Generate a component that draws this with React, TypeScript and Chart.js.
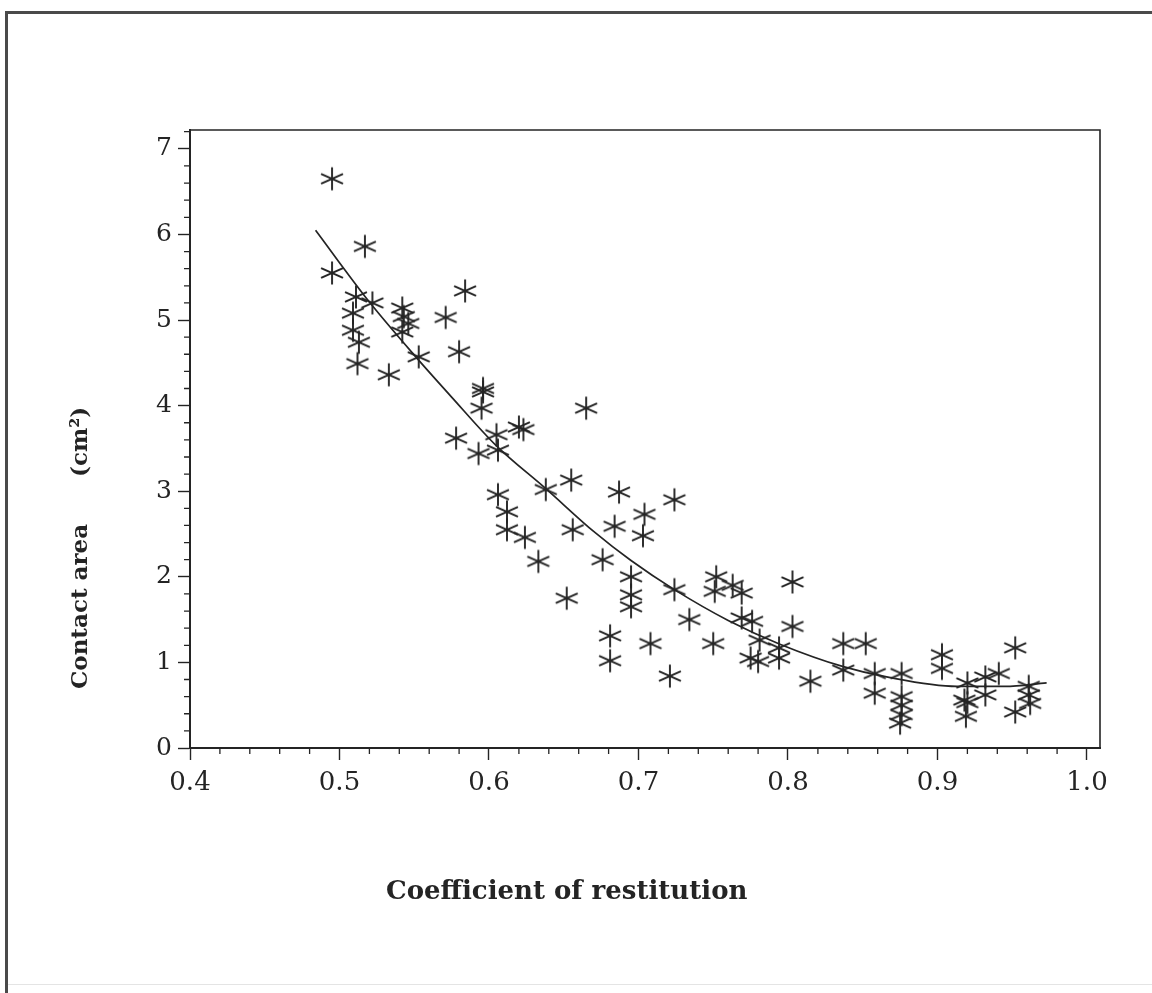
import React, { useEffect, useRef } from "react";
import { Chart, registerables } from "chart.js";

Chart.register(...registerables);

// Observed points: coefficient of restitution vs contact area (cm²)
const restitution = [
  0.495, 0.517, 0.495, 0.511, 0.522, 0.509, 0.542, 0.543, 0.546, 0.509,
  0.513, 0.542, 0.553, 0.512, 0.533, 0.584, 0.571, 0.580, 0.665, 0.596,
  0.596, 0.595, 0.620, 0.623, 0.605, 0.578, 0.593, 0.606, 0.638, 0.655,
  0.687, 0.724, 0.606, 0.612, 0.612, 0.624, 0.633, 0.656, 0.684, 0.704,
  0.703, 0.676, 0.652, 0.695, 0.695, 0.695, 0.724, 0.734, 0.752, 0.763,
  0.751, 0.769, 0.681, 0.681, 0.708, 0.721, 0.750, 0.803, 0.769, 0.776,
  0.781, 0.794, 0.775, 0.780, 0.794, 0.803, 0.815, 0.837, 0.852, 0.837,
  0.858, 0.858, 0.876, 0.876, 0.876, 0.876, 0.875, 0.903, 0.903, 0.920,
  0.918, 0.920, 0.919, 0.932, 0.932, 0.941, 0.952, 0.952, 0.961, 0.961,
  0.962,
];
const contactArea = [
  6.65, 5.86, 5.55, 5.27, 5.20, 5.08, 5.14, 5.04, 4.96, 4.88,
  4.74, 4.86, 4.57, 4.49, 4.36, 5.34, 5.03, 4.63, 3.97, 4.20,
  4.16, 3.97, 3.75, 3.72, 3.66, 3.62, 3.44, 3.48, 3.02, 3.13,
  2.99, 2.90, 2.96, 2.76, 2.55, 2.46, 2.18, 2.55, 2.59, 2.73,
  2.48, 2.20, 1.75, 2.00, 1.79, 1.65, 1.85, 1.50, 2.00, 1.90,
  1.83, 1.81, 1.31, 1.02, 1.22, 0.84, 1.22, 1.94, 1.52, 1.48,
  1.26, 1.17, 1.05, 1.01, 1.05, 1.42, 0.78, 1.22, 1.22, 0.91,
  0.87, 0.64, 0.87, 0.60, 0.50, 0.39, 0.29, 1.09, 0.93, 0.76,
  0.56, 0.53, 0.37, 0.83, 0.62, 0.87, 1.17, 0.42, 0.72, 0.62,
  0.52,
];

// Fitted curve
const fitX = [0.484, 0.50, 0.52, 0.55, 0.575, 0.605, 0.638, 0.67, 0.695, 0.724, 0.76, 0.795, 0.837, 0.866, 0.913, 0.945, 0.973];
const fitY = [6.05, 5.67, 5.21, 4.59, 4.10, 3.53, 3.03, 2.53, 2.19, 1.85, 1.49, 1.21, 0.95, 0.83, 0.72, 0.72, 0.76];

const xMajorTicks = [0.4, 0.5, 0.6, 0.7, 0.8, 0.9, 1.0];
const yMajorTicks = [0, 1, 2, 3, 4, 5, 6, 7];
const xMinorTicks = [0.42, 0.44, 0.46, 0.48, 0.52, 0.54, 0.56, 0.58, 0.62, 0.64, 0.66, 0.68, 0.72, 0.74, 0.76, 0.78, 0.82, 0.84, 0.86, 0.88, 0.92, 0.94, 0.96, 0.98];
const yMinorTicks = [0.2, 0.4, 0.6, 0.8, 1.2, 1.4, 1.6, 1.8, 2.2, 2.4, 2.6, 2.8, 3.2, 3.4, 3.6, 3.8, 4.2, 4.4, 4.6, 4.8, 5.2, 5.4, 5.6, 5.8, 6.2, 6.4, 6.6, 6.8, 7.2];

const xTitle = "Coefficient of restitution";
const yTitleMain = "Contact area";
const yTitleUnit = "(cm²)";

const INK = "#242424";
const FONT = "'DejaVu Serif', serif";

function makeAsterisk(): HTMLCanvasElement {
  const size = 26;
  const c = document.createElement("canvas");
  c.width = size;
  c.height = size;
  const g = c.getContext("2d")!;
  g.strokeStyle = INK;
  g.lineWidth = 1.9;
  g.lineCap = "butt";
  const cx = size / 2;
  const cy = size / 2;
  const arms: [number, number][] = [
    [90, 11.5],
    [24, 12],
    [-24, 12],
  ];
  for (const [deg, r] of arms) {
    const a = (deg * Math.PI) / 180;
    const dx = Math.cos(a) * r;
    const dy = Math.sin(a) * r;
    g.beginPath();
    g.moveTo(cx - dx, cy - dy);
    g.lineTo(cx + dx, cy + dy);
    g.stroke();
  }
  return c;
}

const framePlugin = {
  id: "framePlugin",
  afterDraw(chart: any) {
    const { ctx, chartArea } = chart;
    const xs = chart.scales.x;
    const ys = chart.scales.y;
    ctx.save();
    ctx.strokeStyle = INK;
    ctx.lineWidth = 1.6;
    ctx.beginPath();
    ctx.moveTo(chartArea.left, chartArea.top);
    ctx.lineTo(chartArea.right, chartArea.top);
    ctx.lineTo(chartArea.right, chartArea.bottom);
    ctx.stroke();
    ctx.lineWidth = 1.3;
    ctx.beginPath();
    for (const v of xMinorTicks) {
      const px = xs.getPixelForValue(v);
      ctx.moveTo(px, chartArea.bottom);
      ctx.lineTo(px, chartArea.bottom + 6);
    }
    for (const v of yMinorTicks) {
      const py = ys.getPixelForValue(v);
      ctx.moveTo(chartArea.left, py);
      ctx.lineTo(chartArea.left - 6, py);
    }
    ctx.stroke();

    // axis titles (placed as in the scanned figure, not centred)
    ctx.fillStyle = INK;
    ctx.textAlign = "left";
    ctx.textBaseline = "alphabetic";
    ctx.font = `bold 26px ${FONT}`;
    ctx.fillText(xTitle, chartArea.left + 196, chartArea.bottom + 151);

    ctx.font = `bold 23px ${FONT}`;
    ctx.translate(chartArea.left - 103, chartArea.bottom - 59);
    ctx.rotate(-Math.PI / 2);
    ctx.fillText(yTitleMain, 0, 0);
    ctx.fillText(yTitleUnit, 212, 0);
    ctx.restore();
  },
};

export default function App() {
  const ref = useRef<HTMLCanvasElement | null>(null);

  useEffect(() => {
    if (!ref.current) return;
    const star = makeAsterisk();
    const points = restitution.map((x, i) => ({ x, y: contactArea[i] }));
    const curve = fitX.map((x, i) => ({ x, y: fitY[i] }));
    const chart = new Chart(ref.current, {
      type: "scatter",
      data: {
        datasets: [
          {
            type: "line",
            data: curve,
            borderColor: INK,
            borderWidth: 1.7,
            pointRadius: 0,
            fill: false,
            cubicInterpolationMode: "monotone",
            showLine: true,
          } as any,
          {
            data: points,
            pointStyle: star as any,
            pointRadius: 12,
            borderColor: INK,
            backgroundColor: INK,
          },
        ],
      },
      plugins: [framePlugin],
      options: {
        animation: false,
        responsive: false,
        maintainAspectRatio: false,
        layout: { padding: { left: 93, top: 130, right: 52, bottom: 118 } },
        plugins: {
          legend: { display: false },
          tooltip: { enabled: false },
        },
        scales: {
          x: {
            type: "linear",
            min: 0.4,
            max: 1.0087,
            afterBuildTicks: (s: any) => {
              s.ticks = xMajorTicks.map((v) => ({ value: v }));
            },
            afterFit: (s: any) => {
              s.height = 127;
            },
            grid: {
              drawOnChartArea: false,
              drawTicks: true,
              tickLength: 12,
              tickColor: INK,
              tickWidth: 1.4,
            },
            border: { display: true, color: INK, width: 2 },
            ticks: {
              color: INK,
              padding: 8,
              font: { family: FONT, size: 26 },
              callback: (v: any) => Number(v).toFixed(1),
            },
          },
          y: {
            type: "linear",
            min: 0,
            max: 7.22,
            afterBuildTicks: (s: any) => {
              s.ticks = yMajorTicks.map((v) => ({ value: v }));
            },
            afterFit: (s: any) => {
              s.width = 97;
            },
            grid: {
              drawOnChartArea: false,
              drawTicks: true,
              tickLength: 12,
              tickColor: INK,
              tickWidth: 1.4,
            },
            border: { display: true, color: INK, width: 2 },
            ticks: {
              color: INK,
              padding: 6,
              font: { family: FONT, size: 25 },
              callback: (v: any) => String(v),
            },
          },
        },
      },
    });
    return () => chart.destroy();
  }, []);

  return (
    <div
      style={{
        position: "absolute",
        left: 0,
        top: 0,
        width: 1152,
        height: 993,
        overflow: "hidden",
        background: "#fff",
      }}
    >
      <div
        style={{
          position: "absolute",
          left: 5,
          top: 11,
          width: 1200,
          height: 1000,
          borderLeft: "3px solid #4a4a4a",
          borderTop: "3px solid #4a4a4a",
        }}
      />
      <div
        style={{
          position: "absolute",
          left: 8,
          top: 984,
          width: 1144,
          height: 0,
          borderTop: "1px solid #e4e4e4",
        }}
      />
      <canvas
        ref={ref}
        width={1152}
        height={993}
        style={{ position: "absolute", left: 0, top: 0, width: 1152, height: 993 }}
      />
    </div>
  );
}
